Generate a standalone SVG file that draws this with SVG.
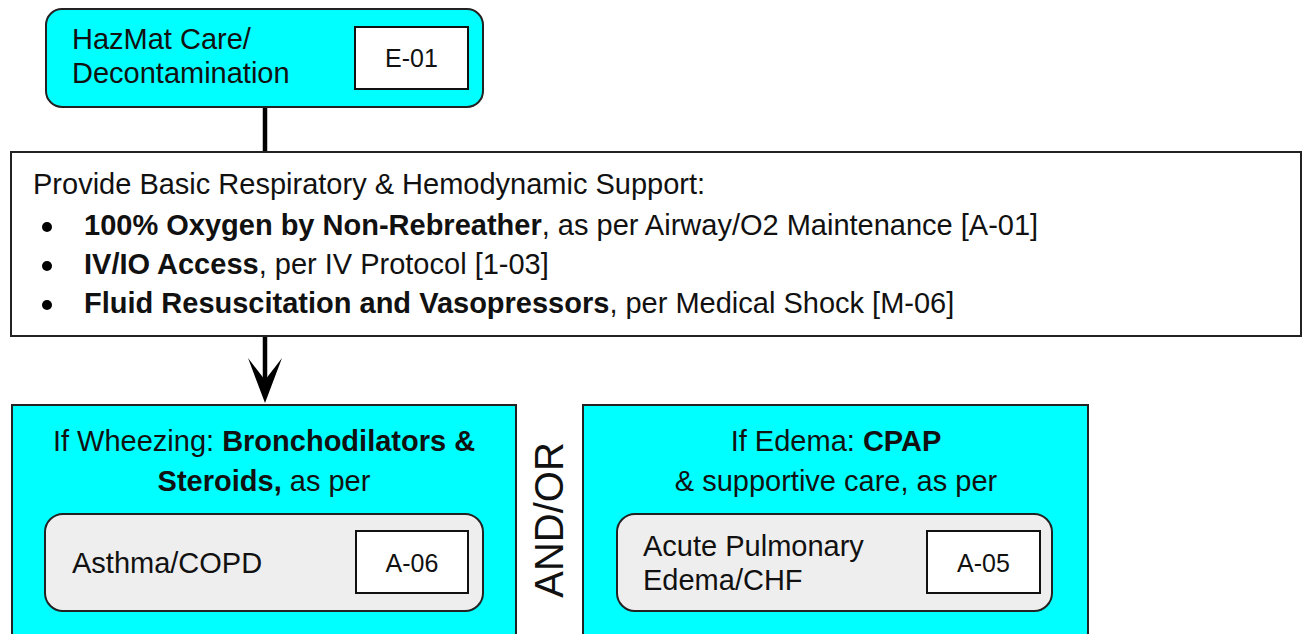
<svg xmlns="http://www.w3.org/2000/svg" width="1302" height="634" viewBox="0 0 1302 634">
<defs>
<style>
text{font-family:"Liberation Sans",Arial,sans-serif;fill:#111;}
.t{font-size:29px;}
.id{font-size:25px;text-anchor:middle;}
.b{font-weight:bold;}
.cy{fill:#00ffff;stroke:#222;stroke-width:2;}
.wh{fill:#fff;stroke:#222;stroke-width:2;}
.gr{fill:#eeeeee;stroke:#222;stroke-width:2;}
.idbox{fill:#fff;stroke:#111;stroke-width:2;}
.conn{stroke:#000;stroke-width:4.5;fill:none;}
</style>
<marker id="arr" markerUnits="userSpaceOnUse" markerWidth="46" markerHeight="36" viewBox="0 0 46 36" refX="27" refY="18" orient="auto">
<path d="M0,1 Q13,11 22,18 Q13,25 0,35 L45,18 Z" fill="#000"/>
</marker>
</defs>

<g id="connectors">
<line class="conn" x1="265" y1="107" x2="265" y2="152"/>
<line class="conn" x1="265" y1="336" x2="265" y2="385" marker-end="url(#arr)"/>
</g>

<g id="hazmat">
<rect class="cy" x="46" y="9" width="437" height="98" rx="16"/>
<text class="t" x="72" y="49">HazMat Care/</text>
<text class="t" x="72" y="83">Decontamination</text>
<rect class="idbox" x="355" y="27" width="113" height="62"/>
<text class="id" x="411.5" y="67">E-01</text>
</g>

<g id="support">
<rect class="wh" x="11" y="152" width="1290" height="184"/>
<text class="t" x="33" y="194">Provide Basic Respiratory &amp; Hemodynamic Support:</text>
<circle cx="47" cy="227" r="5" fill="#000"/>
<circle cx="47" cy="266" r="5" fill="#000"/>
<circle cx="47" cy="305" r="5" fill="#000"/>
<text class="t" x="84" y="235"><tspan class="b">100% Oxygen by Non-Rebreather</tspan>, as per Airway/O2 Maintenance [A-01]</text>
<text class="t" x="84" y="274"><tspan class="b">IV/IO Access</tspan>, per IV Protocol [1-03]</text>
<text class="t" x="84" y="313"><tspan class="b">Fluid Resuscitation and Vasopressors</tspan>, per Medical Shock [M-06]</text>
</g>

<g id="wheezing">
<rect class="cy" x="12" y="405" width="504" height="240"/>
<text class="t" x="264" y="451" text-anchor="middle">If Wheezing: <tspan class="b">Bronchodilators &amp;</tspan></text>
<text class="t" x="264" y="491" text-anchor="middle"><tspan class="b">Steroids,</tspan> as per</text>
<g id="asthma">
<rect class="gr" x="45" y="514" width="438" height="97" rx="18"/>
<text class="t" x="72" y="573">Asthma/COPD</text>
<rect class="idbox" x="356" y="531" width="112" height="62"/>
<text class="id" x="412" y="572">A-06</text>
</g>
</g>

<g id="andor">
<text x="563" y="520" font-size="40" text-anchor="middle" transform="rotate(-90 563 520)">AND/OR</text>
</g>

<g id="edema">
<rect class="cy" x="583" y="405" width="505" height="240"/>
<text class="t" x="836" y="451" text-anchor="middle">If Edema: <tspan class="b">CPAP</tspan></text>
<text class="t" x="836" y="491" text-anchor="middle">&amp; supportive care, as per</text>
<g id="apedema">
<rect class="gr" x="617" y="514" width="435" height="97" rx="18"/>
<text class="t" x="643" y="556">Acute Pulmonary</text>
<text class="t" x="643" y="590">Edema/CHF</text>
<rect class="idbox" x="927" y="531" width="113" height="62"/>
<text class="id" x="983.5" y="572">A-05</text>
</g>
</g>
</svg>
